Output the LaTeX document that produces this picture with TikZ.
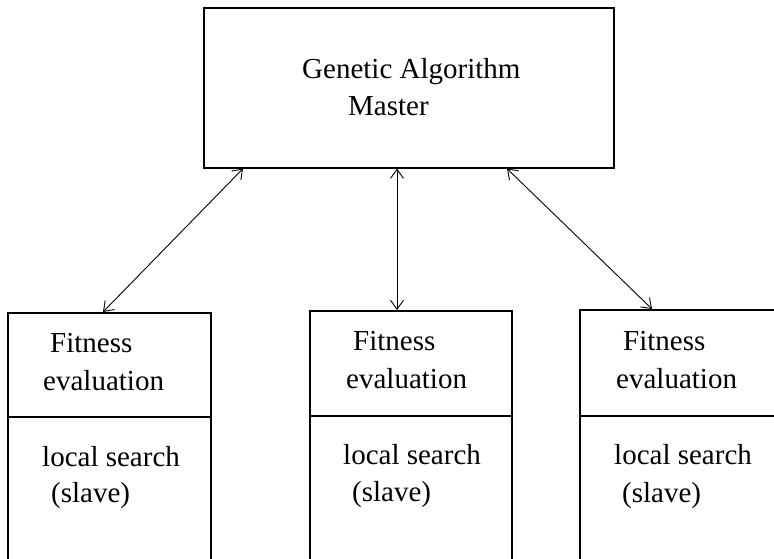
\documentclass[tikz,border=0pt]{standalone}
\usepackage{fontspec}
\setmainfont{Liberation Serif}
\usetikzlibrary{arrows.meta}
\begin{document}
\begin{tikzpicture}[x=1pt,y=-1pt,
  box/.style={draw=black,line width=1.6pt,rectangle,inner sep=0pt,anchor=north west,fill=none},
  lbl/.style={inner sep=0pt,anchor=base west,font=\fontsize{29}{35}\selectfont},
  biarrow/.style={line width=0.9pt,{Straight Barb[length=9pt,width=13pt]}-{Straight Barb[length=9pt,width=13pt]}},
  divider/.style={line width=1.6pt}]
\useasboundingbox (0,0) rectangle (774,558);
\fill[white] (0,0) rectangle (774,558);
\clip (0,0) rectangle (774,558);
% master
\node[box,minimum width=410pt,minimum height=160pt] (master) at (203,7) {};
\node[lbl] (t1) at (302,78) {Genetic Algorithm};
\node[lbl] (t2) at (348,115) {Master};
% slave boxes
\node[box,minimum width=203pt,minimum height=300pt] (b1) at (7,312) {};
\node[box,minimum width=202pt,minimum height=300pt] (b2) at (309,310) {};
\node[box,minimum width=230pt,minimum height=300pt] (b3) at (579,309) {};
\draw[divider] (b1.west |- 0,417) coordinate (d1a) -- (b1.east |- 0,417) coordinate (d1b);
\draw[divider] (b2.west |- 0,416) coordinate (d2a) -- (b2.east |- 0,416) coordinate (d2b);
\draw[divider] (b3.west |- 0,416) coordinate (d3a) -- (b3.east |- 0,416) coordinate (d3b);
% texts
\node[lbl] (f1) at (50,352) {Fitness};
\node[lbl] (e1) at (43,390) {evaluation};
\node[lbl] (l1) at (42,466) {local search};
\node[lbl] (s1) at (51,502) {(slave)};
\node[lbl] (f2) at (353,350) {Fitness};
\node[lbl] (e2) at (346,388) {evaluation};
\node[lbl] (l2) at (343,464) {local search};
\node[lbl] (s2) at (352,501) {(slave)};
\node[lbl] (f3) at (623,350) {Fitness};
\node[lbl] (e3) at (616,388) {evaluation};
\node[lbl] (l3) at (614,464) {local search};
\node[lbl] (s3) at (622,502) {(slave)};
% arrows
\draw[biarrow] ([xshift=40pt]master.south west) -- ([xshift=96pt]b1.north west);
\draw[biarrow] ([xshift=194pt]master.south west) -- ([xshift=88pt]b2.north west);
\draw[biarrow] ([xshift=304pt]master.south west) -- ([xshift=73pt]b3.north west);
\end{tikzpicture}
\end{document}
